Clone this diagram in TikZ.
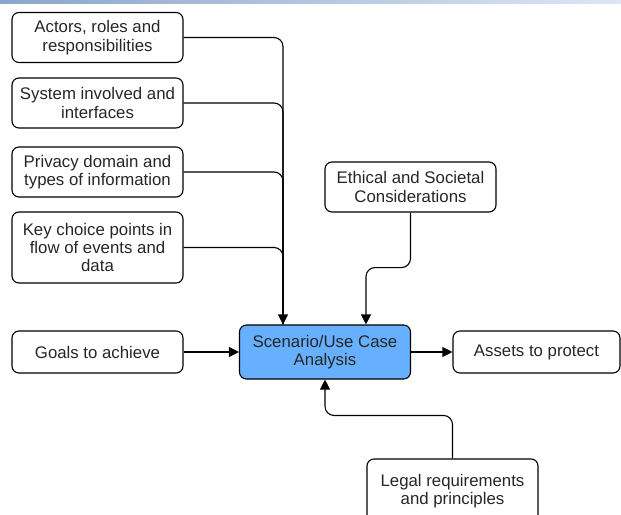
\documentclass[tikz,border=0pt]{standalone}
\usepackage{fontspec}
\setmainfont{Liberation Sans}
\usetikzlibrary{arrows.meta}
\definecolor{scenblue}{RGB}{102,176,255}
\definecolor{barleft}{RGB}{138,166,204}
\definecolor{barright}{RGB}{222,230,244}
\begin{document}
\begin{tikzpicture}[x=1pt,y=1pt,
    box/.style={draw,rounded corners=7pt,line width=1.1pt,minimum width=171pt,
        minimum height=50pt,align=center,inner sep=0pt,text=black!85,
        font=\fontsize{16.8}{18.4}\selectfont},
    link/.style={line width=1.1pt,rounded corners=9pt},
    conn/.style={link,-{Triangle[length=10pt,width=10pt]}}]
    \useasboundingbox (0,0) rectangle (621,-514);
    \shade[left color=barleft,right color=barright] (0,0) rectangle (621,-3);
    % inputs on the left
    \node[box] (actors) at (97.5,-37.5) {Actors, roles and\\responsibilities};
    \node[box] (system) at (97.5,-103) {System involved and\\interfaces};
    \node[box] (privacy) at (97.5,-172) {Privacy domain and\\types of information};
    \node[box,minimum height=71pt] (key) at (97.5,-247.5) {Key choice points in\\flow of events and\\data};
    \node[box,minimum height=42pt] (goals) at (97.5,-352) {Goals to achieve};
    % the analysis
    \node[box,minimum height=54pt,fill=scenblue] (scen) at (325,-352) {Scenario/Use Case\\Analysis};
    \node[box,minimum height=42pt,minimum width=167pt] (assets) at (536.5,-352) {Assets to protect};
    \node[box] (ethical) at (410.5,-187) {Ethical and Societal\\Considerations};
    \node[box,minimum height=64pt] (legal) at (452.5,-491) {Legal requirements\\and principles};
    \coordinate (join) at ([xshift=-42pt]scen.north);
    \draw[conn] (actors.east) -| (join);
    \foreach \b in {system,privacy,key}
        \draw[link] (\b.east) -| (join);
    \draw[conn] (ethical.south) -- ++(0,-55) -| ([xshift=41pt]scen.north);
    \draw[conn] (legal.north) -- ++(0,43) -| (scen.south);
    \draw[conn] (goals) -- (scen);
    \draw[conn] (scen) -- (assets);
\end{tikzpicture}
\end{document}
